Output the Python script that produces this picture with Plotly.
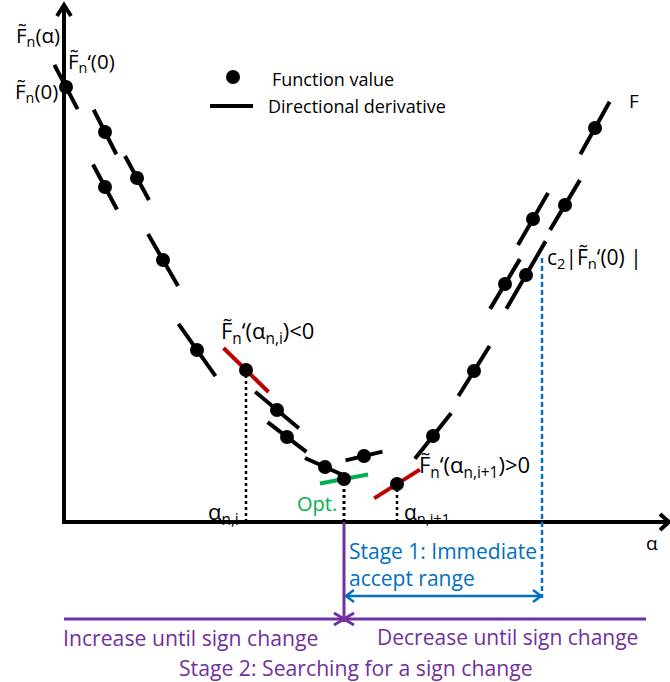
import math
import plotly.graph_objects as go

W, H = 670, 682
FONT = "Open Sans"
BLUE = "#0070C0"
PURPLE = "#7030A0"
GREEN = "#00B050"
RED = "#C00000"

# Line-search iterates: step length alpha and smoothed function value F_n(alpha)
alpha = [0.02, 0.41, 0.41, 0.73, 0.99, 1.33, 1.82, 2.13, 2.23, 2.61,
         2.80, 3.00, 3.33, 3.69, 4.10, 4.41, 4.62, 4.69, 5.01, 5.31]
f_val = [4.35, 3.90, 3.35, 3.44, 2.62, 1.72, 1.52, 1.12, 0.85, 0.55,
         0.43, 0.66, 0.38, 0.86, 1.51, 2.38, 2.47, 3.03, 3.17, 3.94]
# Directional derivative at each iterate (slope of its tangent stroke)
deriv = [-1.91, -1.96, -1.88, -1.83, -1.73, -1.41, -0.98, -0.84, -0.77, -0.45,
         0.19, 0.24, 0.63, 1.25, 1.61, 1.67, 1.72, 1.73, 1.67, 1.79]
# Length of each tangent stroke
tangent_len = [0.50, 0.50, 0.51, 0.50, 0.60, 0.64, 0.63, 0.57, 0.49, 0.44,
               0.49, 0.38, 0.54, 0.58, 0.59, 0.58, 0.78, 0.60, 0.58, 0.60]

I_NEG, I_OPT, I_POS = 6, 10, 12      # alpha_{n,i}, optimum, alpha_{n,i+1}
ACCEPT_END = 4.78                     # right end of the immediate-accept range
C2_LEVEL = 2.64                       # c2 |F_n'(0)| threshold height

X_RANGE = [-0.64, 6.06]
Y_RANGE = [-1.60, 5.22]


def tangent(i):
    m = deriv[i]
    dx = tangent_len[i] / 2 / math.sqrt(1 + m * m)
    return [alpha[i] - dx, alpha[i] + dx], [f_val[i] - m * dx, f_val[i] + m * dx]


def stroke_trace(indices, color):
    xs, ys = [], []
    for i in indices:
        tx, ty = tangent(i)
        xs += tx + [None]
        ys += ty + [None]
    return go.Scatter(x=xs, y=ys, mode="lines", line=dict(color=color, width=4),
                      hoverinfo="skip", showlegend=False)


fig = go.Figure()
colored = {I_NEG: RED, I_POS: RED, I_OPT: GREEN}
fig.add_trace(stroke_trace([i for i in range(len(alpha)) if i not in colored], "black"))
fig.add_trace(stroke_trace([I_NEG, I_POS], RED))
fig.add_trace(stroke_trace([I_OPT], GREEN))
fig.add_trace(go.Scatter(x=alpha, y=f_val, mode="markers",
                         marker=dict(color="black", size=14),
                         hoverinfo="skip", showlegend=False))

shapes = []


def path(d, color, width, dash="solid"):
    shapes.append(dict(type="path", path=d, xref="x", yref="y",
                       line=dict(color=color, width=width, dash=dash)))


def seg(x0, y0, x1, y1, color, width, dash="solid"):
    shapes.append(dict(type="line", x0=x0, y0=y0, x1=x1, y1=y1, xref="x", yref="y",
                       line=dict(color=color, width=width, dash=dash)))


# Coordinate axes with open arrow heads
y_top, x_right = 5.17, 6.05
path(f"M 0,-0.02 L 0,{y_top}", "black", 4)
path(f"M -0.07,{y_top - 0.11} L 0,{y_top} L 0.07,{y_top - 0.11}", "black", 4)
path(f"M -0.02,0 L {x_right},0", "black", 4)
path(f"M {x_right - 0.09},0.08 L {x_right},0 L {x_right - 0.09},-0.08", "black", 4)

# Drop lines from the bracketing iterates and the optimum to the alpha axis
seg(alpha[I_NEG], 0, alpha[I_NEG], f_val[I_NEG], "black", 2.5, "dot")
seg(alpha[I_POS], 0, alpha[I_POS], f_val[I_POS], "black", 2.5, "dot")
seg(alpha[I_OPT], 0, alpha[I_OPT], f_val[I_OPT], "black", 3, "3px,3px")

# Stage 1: immediate accept range
seg(ACCEPT_END, C2_LEVEL, ACCEPT_END, -0.76, BLUE, 2.5, "5px,3px")
ya = -0.74
path(f"M {alpha[I_OPT] + 0.02},{ya} L {ACCEPT_END - 0.01},{ya}", BLUE, 2.5)
path(f"M {alpha[I_OPT] + 0.10},{ya + 0.06} L {alpha[I_OPT] + 0.02},{ya} "
     f"L {alpha[I_OPT] + 0.10},{ya - 0.06}", BLUE, 2.5)
path(f"M {ACCEPT_END - 0.09},{ya + 0.06} L {ACCEPT_END - 0.01},{ya} "
     f"L {ACCEPT_END - 0.09},{ya - 0.06}", BLUE, 2.5)

# Stage 2: search for a sign change, converging on the optimum
yp = -0.97
path(f"M {alpha[I_OPT]},0 L {alpha[I_OPT]},{yp - 0.03}", PURPLE, 3)
path(f"M 0,{yp} L 5.82,{yp}", PURPLE, 3)
path(f"M {alpha[I_OPT] - 0.10},{yp + 0.06} L {alpha[I_OPT]},{yp} "
     f"L {alpha[I_OPT] - 0.10},{yp - 0.06}", PURPLE, 3)
path(f"M {alpha[I_OPT] + 0.10},{yp + 0.06} L {alpha[I_OPT]},{yp} "
     f"L {alpha[I_OPT] + 0.10},{yp - 0.06}", PURPLE, 3)

# Legend glyphs
shapes.append(dict(type="circle", xref="paper", yref="paper",
                   x0=(233 - 7) / W, x1=(233 + 7) / W, y0=1 - (77 + 7) / H, y1=1 - (77 - 7) / H,
                   fillcolor="black", line=dict(color="black", width=0)))
shapes.append(dict(type="line", xref="paper", yref="paper",
                   x0=210 / W, x1=253 / W, y0=1 - 106 / H, y1=1 - 106 / H,
                   line=dict(color="black", width=4)))

annotations = []


def label(text, x, y, xanchor="left", size=20, color="black"):
    annotations.append(dict(text=text, x=x / W, y=1 - y / H, xref="paper", yref="paper",
                            xanchor=xanchor, yanchor="middle", showarrow=False, align="left",
                            font=dict(family=FONT, size=size, color=color)))


FT = "F\u0303<sub>n</sub>"
label(FT + "(α)", 62, 36, "right", size=20.5)
label(FT + "\u2018(0)", 66, 62, size=20.5)
label(FT + "(0)", 60, 92, "right", size=20.5)
label("Function value", 270, 79, size=18)
label("Directional derivative", 266, 106, size=18)
label("F", 627, 101, size=19)
label("c<sub>2</sub>|" + FT + "\u2018(0) |", 545, 258, size=21)
label(FT + "\u2018(α<sub>n,i</sub>)<0", 219, 332, size=22)
label(FT + "\u2018(α<sub>n,i+1</sub>)>0", 417, 466, size=22)
label("α<sub>n,i</sub>", 241, 513, "right", size=22)
label("α<sub>n,i+1</sub>", 402, 513, size=21)
label("Opt.", 339, 503, "right", size=20, color=GREEN)
label("α", 652, 543, "center", size=19)
label("Stage 1: Immediate<br>accept range", 347, 564, size=21, color=BLUE)
label("Increase until sign change", 61, 637, size=21.2, color=PURPLE)
label("Decrease until sign change", 375, 637, size=21, color=PURPLE)
label("Stage 2: Searching for a sign change", 356, 667, "center", size=21.2, color=PURPLE)

fig.update_layout(
    width=W, height=H,
    margin=dict(l=0, r=0, t=0, b=0),
    paper_bgcolor="white", plot_bgcolor="white",
    xaxis=dict(range=X_RANGE, visible=False, fixedrange=True),
    yaxis=dict(range=Y_RANGE, visible=False, fixedrange=True),
    shapes=shapes, annotations=annotations,
    showlegend=False,
)

fig.write_html("out.html")
